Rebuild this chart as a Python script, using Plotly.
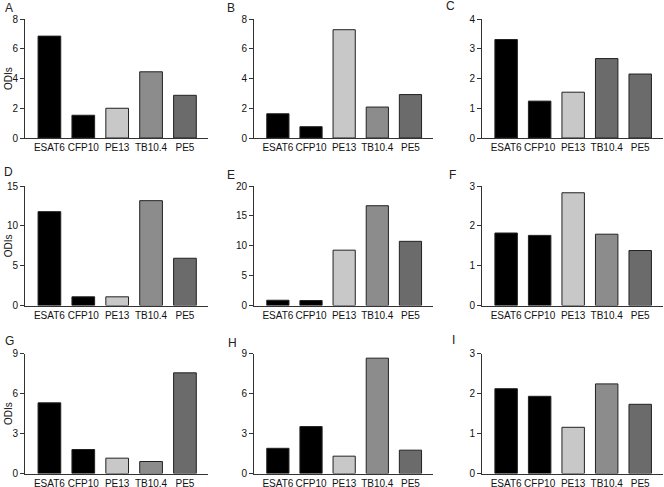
import plotly.graph_objects as go

categories = ["ESAT6", "CFP10", "PE13", "TB10.4", "PE5"]
panel_labels = ["A", "B", "C", "D", "E", "F", "G", "H", "I"]

values_A = [6.85, 1.53, 2.0, 4.45, 2.87]
values_B = [1.63, 0.76, 7.28, 2.08, 2.92]
values_C = [3.31, 1.24, 1.54, 2.67, 2.15]
values_D = [11.78, 1.09, 1.09, 13.16, 5.93]
values_E = [0.88, 0.83, 9.26, 16.7, 10.74]
values_F = [1.82, 1.76, 2.83, 1.79, 1.38]
values_G = [5.3, 1.8, 1.15, 0.9, 7.55]
values_H = [1.89, 3.52, 1.3, 8.65, 1.75]
values_I = [2.12, 1.93, 1.155, 2.24, 1.73]
all_values = [values_A, values_B, values_C, values_D, values_E,
              values_F, values_G, values_H, values_I]

y_max = [8, 8, 4, 15, 20, 3, 9, 9, 3]
y_dtick = [2, 2, 1, 5, 5, 1, 3, 3, 1]

base_colors = ["#000000", "#000000", "#c8c8c8", "#8c8c8c", "#6b6b6b"]
colors_C = ["#000000", "#000000", "#c8c8c8", "#6b6b6b", "#6b6b6b"]

W, H = 664, 487
col_px = [(25, 208), (254, 433), (482, 663)]
row_px = [(19, 138), (186, 305.5), (353.5, 473.5)]
letter_px = [(3, 8), (225, 8), (444, 6),
             (2, 172), (225, 175), (447, 175),
             (3, 341), (226, 343), (450, 340)]

fig = go.Figure()
layout = dict(template="none", width=W, height=H,
              margin=dict(l=0, r=0, t=0, b=0, pad=0, autoexpand=False),
              paper_bgcolor="white", plot_bgcolor="white", showlegend=False,
              font=dict(family="Liberation Sans, Arial, sans-serif", size=10, color="#000"))
annotations = []

for i in range(9):
    r, c = divmod(i, 3)
    n = "" if i == 0 else str(i + 1)
    x0, x1 = col_px[c]
    ytop, ybot = row_px[r]
    cols = colors_C if i == 2 else base_colors
    fig.add_trace(go.Bar(
        x=categories, y=all_values[i], width=0.67,
        marker=dict(color=cols, line=dict(color="#222", width=1)),
        xaxis="x" + n, yaxis="y" + n, hoverinfo="x+y"))
    layout["xaxis" + n] = dict(
        domain=[x0 / W, x1 / W], anchor="y" + n, type="category",
        range=[-0.72, 4.68], showline=True, linecolor="#333", linewidth=1,
        ticks="", showgrid=False, zeroline=False, tickangle=0, automargin=False,
        tickfont=dict(size=10, color="#111"), fixedrange=True)
    layout["yaxis" + n] = dict(
        domain=[1 - ybot / H, 1 - ytop / H], anchor="x" + n,
        range=[0, y_max[i]], dtick=y_dtick[i], tick0=0,
        showline=True, linecolor="#333", linewidth=1,
        ticks="outside", ticklen=4, tickcolor="#333", automargin=False,
        showgrid=False, zeroline=False,
        tickfont=dict(size=10, color="#111"), fixedrange=True)
    lx, ly = letter_px[i]
    annotations.append(dict(text=panel_labels[i], x=lx / W, y=1 - ly / H,
                            xref="paper", yref="paper", xanchor="left", yanchor="middle",
                            showarrow=False, font=dict(size=12, color="#222")))
    if c == 0:
        annotations.append(dict(text="ODIs", x=1 / W, y=1 - (ytop + ybot) / 2 / H,
                                xref="paper", yref="paper", xanchor="left", yanchor="middle",
                                textangle=-90, showarrow=False,
                                font=dict(size=10, color="#111")))

layout["annotations"] = annotations
fig.update_layout(**layout)
fig.write_html("out.html", config={"displayModeBar": False},
               post_script="document.body.style.margin='0';document.body.style.overflow='hidden';")
